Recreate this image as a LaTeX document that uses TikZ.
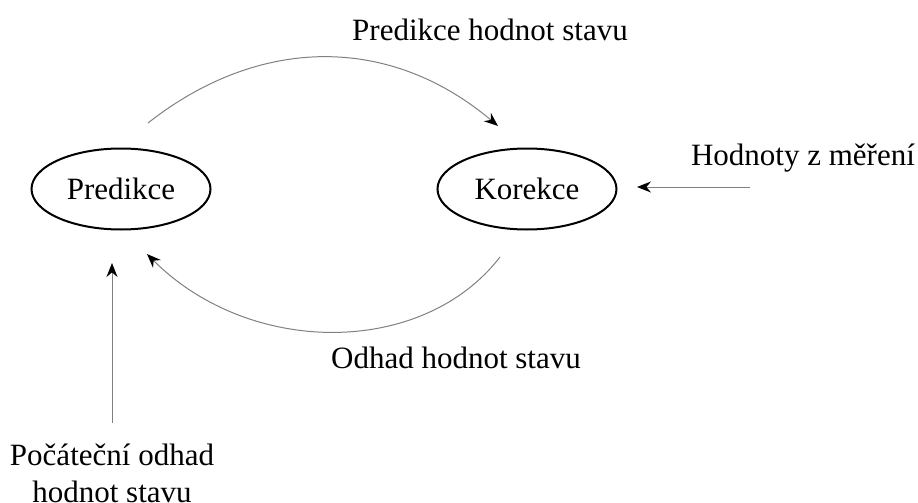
\documentclass[tikz,border=0pt]{standalone}
\usepackage{fontspec}
\setmainfont{Liberation Serif}
\usetikzlibrary{arrows.meta,shapes.geometric}
\begin{document}
\begin{tikzpicture}[x=0.5pt,y=-0.5pt,
  lbl/.style={font=\fontsize{15.5}{18.5}\selectfont, inner sep=0pt},
  state/.style={lbl, ellipse, draw, line width=1pt,
    minimum width=89.5pt, minimum height=40.5pt},
  flow/.style={draw=black!50, line width=0.5pt,
    -{Stealth[length=7pt, width=5.5pt, inset=2.3pt, color=black]}}]
\useasboundingbox (0,0) rectangle (918,503);

% the two filter steps
\node[state] (pred) at (121,189) {Predikce};
\node[state] (kor)  at (527,189) {Korekce};

% labels
\node[lbl, anchor=base] (ltop) at (490,40)  {Predikce hodnot stavu};
\node[lbl, anchor=base] (lbot) at (456,368) {Odhad hodnot stavu};
\node[lbl, anchor=base] (meas) at (803,165) {Hodnoty z měření};
\node[lbl, anchor=base] (init1) at (112,465) {Počáteční odhad};
\node[lbl, anchor=base] (init2) at (112,502) {hodnot stavu};

% connector end points
\coordinate (a1) at (148,123);
\coordinate (a2) at (498,126);
\coordinate (b1) at (500,257);
\coordinate (b2) at (147,254);
\coordinate (m1) at (750,187);
\coordinate (m2) at (637,187);
\coordinate (i1) at (112,423);
\coordinate (i2) at (112,263);

% connectors
\draw[flow] (a1) .. controls (260,35) and (390,35) .. (a2);
\draw[flow] (b1) .. controls (423,357) and (250,357) .. (b2);
\draw[flow] (m1) -- (m2);
\draw[flow] (i1) -- (i2);
\end{tikzpicture}
\end{document}
